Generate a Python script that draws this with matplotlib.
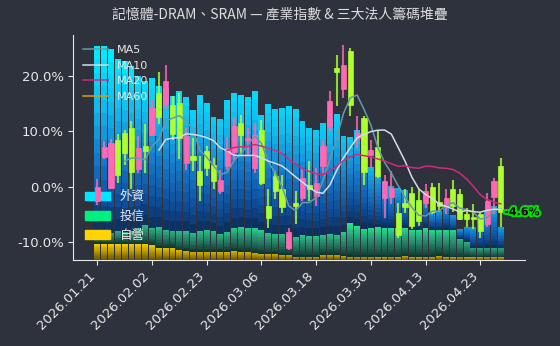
import matplotlib.pyplot as plt
import matplotlib.patheffects as pe
from matplotlib.colors import LinearSegmentedColormap
from matplotlib.patches import Patch
import numpy as np
import pandas as pd

plt.rcParams['font.family'] = ['DejaVu Sans', 'Noto Sans CJK TC']

title = '記憶體-DRAM、SRAM — 產業指數 & 三大法人籌碼堆疊'
tick_dates = ['2026.01.21', '2026.02.02', '2026.02.23', '2026.03.06',
              '2026.03.18', '2026.03.30', '2026.04.13', '2026.04.23']

# index change vs. first close, %
opens = [-2.6, 5.4, -0.2, 8.5, 9.7, 10.6, 3.2, 7.3, 9.4, 16.9,
         15.0, 14.8, 15.1, 4.2, 5.5, 2.8, 6.4, 4.0, -0.7, 3.8,
         6.2, 11.5, 8.5, 3.4, 10.3, -3.5, 1.9, -0.5, -11.0, -2.9,
         -2.0, 0.4, -1.7, 3.7, 10.9, 21.4, 17.7, 24.5, 8.8, 12.4,
         5.8, 7.1, -2.0, -1.9, -4.8, -2.9, -1.2, -2.4, -2.9, -0.1,
         -2.8, -3.5, -0.5, -1.4, -5.0, -5.4, -5.0, -6.7, -1.9, 3.8]
highs = [1.4, 8.3, 8.6, 9.5, 10.3, 11.8, 9.2, 11.3, 15.6, 20.8,
         21.9, 16.3, 16.9, 10.6, 8.8, 5.5, 7.3, 5.2, 3.1, 9.0,
         12.4, 13.0, 10.6, 11.5, 12.1, -0.5, 2.8, 2.2, -7.4, -0.8,
         3.4, 4.6, 3.4, 8.5, 17.2, 23.8, 25.6, 25.0, 12.7, 12.7,
         8.5, 10.3, 2.2, 2.8, -2.9, -0.5, 0.0, -0.5, 0.5, 0.7,
         0.7, -0.4, 1.3, -0.5, -3.8, -3.2, -4.7, -1.1, 1.6, 5.2]
lows = [-3.3, 5.0, -0.4, 0.6, 4.0, -0.4, 2.4, 2.5, 9.1, 11.4,
        14.0, 8.4, 5.0, 3.1, 2.8, -2.6, 1.9, -0.5, -1.4, 3.0,
        4.9, 5.8, 5.8, 2.5, 0.4, -7.4, -2.3, -4.7, -11.4, -6.8,
        -2.6, -2.6, -3.5, 2.5, 10.0, 14.5, 16.0, 12.7, 7.0, 0.4,
        3.4, 1.5, -5.6, -3.2, -9.2, -4.7, -7.6, -7.0, -3.8, -5.0,
        -4.5, -5.0, -4.5, -6.0, -7.2, -7.7, -9.2, -7.2, -5.0, -7.2]
closes = [0.0, 7.1, 7.9, 2.2, 6.1, 2.6, 7.0, 6.5, 14.2, 12.5,
          19.1, 9.6, 8.8, 9.2, 4.9, 0.4, 3.4, 1.0, 1.3, 7.0,
          11.0, 9.4, 8.8, 9.4, 0.7, -5.6, -0.7, -3.7, -8.1, -3.5,
          1.6, -0.5, 0.7, 7.3, 15.4, 20.8, 22.0, 14.8, 9.7, 2.6,
          6.7, 2.0, 1.1, -0.2, -8.8, -3.7, -7.0, -6.1, -0.8, -4.5,
          -3.5, -2.0, -3.5, -5.8, -5.9, -5.9, -8.0, -2.6, 1.0, -4.6]

# institutional holdings stack
foreign = [62.3, 62.2, 61.3, 57.3, 57.0, 55.0, 50.7, 48.0, 50.0, 47.0,
           47.3, 45.0, 46.7, 44.7, 41.0, 45.3, 42.3, 38.0, 38.3, 44.0,
           45.0, 44.0, 43.7, 45.7, 38.3, 43.0, 41.7, 42.0, 43.0, 42.7,
           38.0, 36.0, 35.3, 37.3, 38.3, 40.3, 32.0, 28.7, 32.0, 30.3,
           20.3, 18.3, 15.3, 14.0, 13.3, 12.7, 11.7, 9.3, 10.7, 5.7,
           6.3, 8.0, 5.3, 3.3, 5.0, 7.0, 10.7, 12.0, 14.0, 7.0]
trust = [3.7, 3.7, 3.7, 4.3, 4.0, 4.3, 5.3, 6.3, 5.7, 7.0,
         6.0, 5.7, 6.3, 6.7, 6.3, 7.0, 7.3, 7.0, 6.0, 6.7,
         7.7, 8.3, 8.0, 8.3, 8.0, 7.0, 6.7, 7.0, 6.7, 6.7,
         7.3, 7.0, 7.0, 6.7, 7.0, 6.7, 8.0, 11.3, 10.3, 9.3,
         9.7, 10.0, 9.7, 9.7, 9.7, 9.3, 9.3, 9.3, 9.7, 9.3,
         8.7, 9.3, 9.0, 6.0, 5.3, 3.3, 3.0, 3.0, 3.0, 3.0]
dealer = [5.3, 5.3, 5.3, 5.3, 5.3, 5.3, 5.3, 5.3, 5.0, 4.0,
          4.0, 4.0, 3.3, 3.0, 2.7, 2.7, 2.7, 2.7, 2.7, 2.7,
          3.0, 2.7, 2.7, 2.3, 2.0, 2.0, 2.0, 1.7, 1.7, 1.0,
          1.0, 1.0, 1.0, 1.7, 1.7, 1.7, 1.3, 1.0, 1.0, 1.0,
          1.0, 0.8, 0.8, 1.0, 0.8, 1.3, 0.8, 0.8, 1.0, 0.8,
          1.3, 0.8, 0.8, 1.0, 0.8, 0.8, 0.8, 1.0, 0.8, 0.8]

bg = '#2d323c'
fg = '#e8e8e8'
n = len(closes)
x = np.arange(n)

fig = plt.figure(figsize=(5.6, 3.46), dpi=100, facecolor=bg)
ax = fig.add_axes([0.131, 0.249, 0.806, 0.650])
ax2 = ax.twinx()
ax.set_zorder(ax2.get_zorder() + 1)
ax.patch.set_visible(False)
ax2.patch.set_facecolor(bg)
ax2.patch.set_visible(True)

# stacked gradient bars
cm_f = LinearSegmentedColormap.from_list('f', ['#0c2850', '#0f4e9a', '#157ccc', '#12bdee', '#00f0ff'])
cm_t = LinearSegmentedColormap.from_list('t', ['#0c2e27', '#1f6050', '#2a9a76', '#20ec90'])
cm_d = LinearSegmentedColormap.from_list('d', ['#5e4c00', '#a88a00', '#f6ce00'])


def grad_bars(base, seg, cmap, lo, span, nsl=14):
    seg = np.asarray(seg, float)
    top = lo + span * seg / seg.max()
    for k in range(nsl):
        f = (k + 0.5) / nsl
        ax2.bar(x, seg / nsl, bottom=base + seg * k / nsl, width=0.86,
                color=cmap(f ** 0.8 * top), linewidth=0)


d = np.array(dealer)
t = np.array(trust)
grad_bars(np.zeros(n), d, cm_d, 0.6, 0.4)
grad_bars(d, t, cm_t, 0.6, 0.4)
grad_bars(d + t, foreign, cm_f, 0.6, 0.4)
ax2.set_ylim(0, 75)
ax2.set_yticks([])
for s in ax2.spines.values():
    s.set_visible(False)

leg2 = ax2.legend([Patch(color='#00e8ff'), Patch(color='#00f080'), Patch(color='#ffd400')],
                  ['外資', '投信', '自營'], loc='lower left', frameon=False,
                  fontsize=9, labelcolor=fg, bbox_to_anchor=(0, 0.03))

# candles
o = np.array(opens)
c = np.array(closes)
col = np.where(c >= o, '#ff69b4', '#adff2f')
ax.vlines(x, lows, highs, colors=col, lw=1.5, alpha=0.8, zorder=3)
ax.bar(x, np.abs(c - o), bottom=np.minimum(o, c), width=0.75,
       color=col, edgecolor=col, linewidth=0.5, zorder=4)

# moving averages
cs = pd.Series(closes)
ma_cols = {5: '#6a98a8', 10: '#d4dcec', 20: '#d02a7c', 60: '#d4a017'}
for w, mc in ma_cols.items():
    ax.plot(x, cs.rolling(w).mean(), color=mc, lw=1.1, label=f'MA{w}', zorder=5)
ax.legend(loc='upper left', frameon=False, fontsize=8, labelcolor=fg, handlelength=2.2)

ax.text(n - 1 + 0.5, closes[-1], f'{closes[-1]:.1f}%', ha='left', va='center',
        fontsize=8, fontweight='bold', color='black', zorder=6, clip_on=False,
        path_effects=[pe.withStroke(linewidth=3, foreground='#00e000')])

ax.set_xlim(-3.5, n + 2.5)
ax.set_ylim(-13.2, 27.4)
ax.set_yticks([-10, 0, 10, 20])
ax.set_yticklabels([f'{v:.1f}%' for v in [-10, 0, 10, 20]])
ax.set_xticks(x[::8])
ax.set_xticklabels(tick_dates, rotation=45, ha='right')
ax.tick_params(colors=fg, labelsize=9.5, length=3.5)
for side in ['top', 'right']:
    ax.spines[side].set_visible(False)
for side in ['left', 'bottom']:
    ax.spines[side].set_color(fg)

fig.text(0.5, 0.957, title, ha='center', va='center', color='#dcdcdc', fontsize=10,
         family=['Noto Sans CJK TC', 'DejaVu Sans'])

fig.savefig('out.png', dpi=100, facecolor=bg)
